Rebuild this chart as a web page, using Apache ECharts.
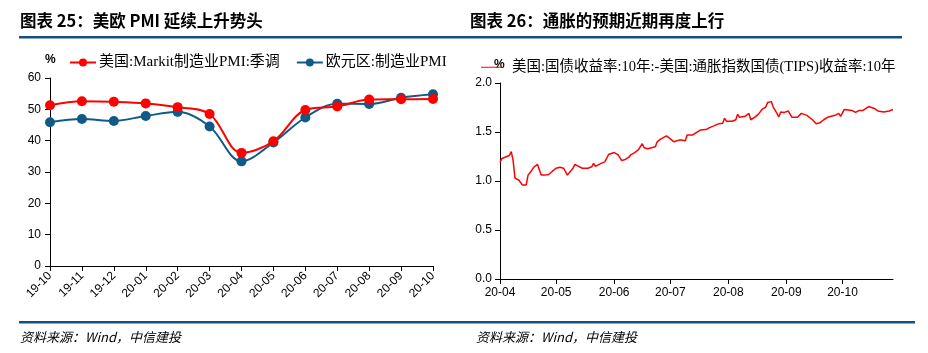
<!DOCTYPE html>
<html>
<head>
<meta charset="utf-8">
<script src="https://cdn.jsdelivr.net/npm/echarts@6/dist/echarts.min.js"></script>
<style>
  html, body { margin: 0; padding: 0; background: #fff; }
  #chart { width: 928px; height: 353px; }
</style>
</head>
<body>
<div id="chart"></div>
<script>
// 左图：美欧制造业PMI（月度）
const pmiMonths = ['19-10', '19-11', '19-12', '20-01', '20-02', '20-03', '20-04',
    '20-05', '20-06', '20-07', '20-08', '20-09', '20-10'];
const usPmi = [51.3, 52.6, 52.4, 51.9, 50.7, 48.5, 36.1, 39.8, 49.8, 50.9, 53.1, 53.2, 53.3];
const euPmi = [45.9, 46.9, 46.3, 47.9, 49.2, 44.5, 33.4, 39.4, 47.4, 51.8, 51.7, 53.7, 54.8];
const pmiTicks = [0, 10, 20, 30, 40, 50, 60];

// 右图：10年期盈亏平衡通胀率（日度）
const beDates = [
    '2020-04-01', '2020-04-02', '2020-04-03', '2020-04-06', '2020-04-07', '2020-04-08',
    '2020-04-09', '2020-04-11', '2020-04-13', '2020-04-14', '2020-04-15', '2020-04-16',
    '2020-04-17', '2020-04-18', '2020-04-19', '2020-04-21', '2020-04-22', '2020-04-23',
    '2020-04-25', '2020-04-27', '2020-04-29', '2020-04-30',
    '2020-05-01', '2020-05-03', '2020-05-05', '2020-05-07', '2020-05-10', '2020-05-11',
    '2020-05-13', '2020-05-15', '2020-05-18', '2020-05-20', '2020-05-21', '2020-05-22',
    '2020-05-25', '2020-05-27', '2020-05-28', '2020-05-29',
    '2020-06-01', '2020-06-03', '2020-06-04', '2020-06-05', '2020-06-07', '2020-06-09',
    '2020-06-10', '2020-06-12', '2020-06-14', '2020-06-15', '2020-06-16', '2020-06-17',
    '2020-06-19', '2020-06-23', '2020-06-24', '2020-06-26', '2020-06-29', '2020-06-30',
    '2020-07-03', '2020-07-04', '2020-07-06', '2020-07-09', '2020-07-10', '2020-07-13',
    '2020-07-14', '2020-07-17', '2020-07-20', '2020-07-21', '2020-07-22', '2020-07-24',
    '2020-07-27', '2020-07-29', '2020-07-30', '2020-07-31',
    '2020-08-03', '2020-08-05', '2020-08-06', '2020-08-07', '2020-08-10', '2020-08-12',
    '2020-08-13', '2020-08-15', '2020-08-17', '2020-08-19', '2020-08-21', '2020-08-22',
    '2020-08-24', '2020-08-25', '2020-08-27', '2020-08-28', '2020-08-29', '2020-08-31',
    '2020-09-01', '2020-09-02', '2020-09-03', '2020-09-04', '2020-09-07', '2020-09-09',
    '2020-09-10', '2020-09-12', '2020-09-15', '2020-09-17', '2020-09-19', '2020-09-21',
    '2020-09-23', '2020-09-24', '2020-09-27', '2020-09-29', '2020-09-30',
    '2020-10-02', '2020-10-03', '2020-10-06', '2020-10-08', '2020-10-10', '2020-10-12',
    '2020-10-15', '2020-10-18', '2020-10-20', '2020-10-23', '2020-10-26', '2020-10-28'
];
const beValues = [
    1.19, 1.23, 1.245, 1.26, 1.30, 1.21,
    1.03, 1.01, 0.96, 0.94, 0.96, 1.06,
    1.05, 1.11, 1.14, 1.17, 1.15, 1.06,
    1.06, 1.066, 1.10, 1.08,
    1.13, 1.14, 1.13, 1.06, 1.13, 1.17,
    1.15, 1.13, 1.13, 1.145, 1.18, 1.15,
    1.18, 1.195, 1.23, 1.27,
    1.29, 1.27, 1.28, 1.21, 1.22, 1.245,
    1.27, 1.29, 1.32, 1.35, 1.38, 1.34,
    1.33, 1.35, 1.40, 1.43, 1.46, 1.44,
    1.40, 1.415, 1.42, 1.41, 1.47, 1.47,
    1.49, 1.52, 1.525, 1.51, 1.545, 1.56,
    1.585, 1.59, 1.64, 1.61,
    1.61, 1.625, 1.68, 1.65, 1.66, 1.69,
    1.625, 1.65, 1.68, 1.73, 1.755, 1.80,
    1.81, 1.755, 1.69, 1.655, 1.705, 1.70,
    1.69, 1.715, 1.695, 1.65, 1.65, 1.69,
    1.67, 1.67, 1.625, 1.585, 1.595, 1.625,
    1.65, 1.635, 1.67, 1.69, 1.66,
    1.73, 1.74, 1.72, 1.70, 1.72, 1.72,
    1.76, 1.74, 1.715, 1.705, 1.715, 1.73
];
const beMonthTicks = ['2020-04-01', '2020-05-01', '2020-06-01', '2020-07-01',
    '2020-08-01', '2020-09-01', '2020-10-01'];
const beTicks = [0, 0.5, 1.0, 1.5, 2.0];

const RED = '#FF0000';
const BLUE = '#0F5A87';
const NAVY = '#14507C';
const LATIN = "'Liberation Sans', Arial, sans-serif";
const SERIF = "'Liberation Serif', 'Noto Sans CJK SC', serif";

// 日期转时间戳（UTC，避免时区偏移）
const ts = d => Date.UTC(+d.slice(0, 4), +d.slice(5, 7) - 1, +d.slice(8, 10));
const tickTs = beMonthTicks.map(ts);
const fmtMonth = v => {
    const dt = new Date(v);
    return String(dt.getUTCFullYear()).slice(2) + '-' + String(dt.getUTCMonth() + 1).padStart(2, '0');
};

const chart = echarts.init(document.getElementById('chart'));

const axisLineStyle = { show: true, lineStyle: { color: '#000', width: 1 } };

const option = {
    animation: false,
    backgroundColor: '#fff',
    textStyle: { fontFamily: LATIN },
    graphic: [
        // 标题
        { type: 'text', left: 20, top: 12, style: { text: '图表 25：美欧 PMI 延续上升势头', font: "bold 16.5px 'Noto Sans CJK SC', sans-serif", fill: '#000' } },
        { type: 'text', left: 470, top: 12, style: { text: '图表 26：通胀的预期近期再度上行', font: "bold 16.5px 'Noto Sans CJK SC', sans-serif", fill: '#000' } },
        // 分隔线
        { type: 'rect', shape: { x: 19, y: 36, width: 883, height: 2.5 }, style: { fill: NAVY } },
        { type: 'rect', shape: { x: 19, y: 321, width: 896, height: 2.5 }, style: { fill: NAVY } },
        // 单位
        { type: 'text', left: 45, top: 54, style: { text: '%', font: "bold 12px 'Liberation Sans', sans-serif", fill: '#000' } },
        { type: 'text', left: 494, top: 59, style: { text: '%', font: "bold 12px 'Liberation Sans', sans-serif", fill: '#000' } }
    ].concat([20, 476].map(x => ({
        // 资料来源
        type: 'text', left: x, top: 331,
        style: { text: '资料来源：Wind，中信建投', font: "italic 13px 'Noto Sans CJK SC', sans-serif", fill: '#000' }
    }))),
    legend: [
        {
            left: 64, top: 50,
            itemWidth: 26, itemHeight: 10, itemGap: 16,
            textStyle: { fontSize: 15, fontFamily: SERIF, color: '#000', padding: [0, 0, 0, -2] },
            data: ['美国:Markit制造业PMI:季调', '欧元区:制造业PMI']
        },
        {
            left: 476, top: 55,
            itemWidth: 20, itemHeight: 10,
            icon: 'path://M0,4.5L20,4.5L20,5.5L0,5.5Z',
            textStyle: { fontSize: 14.5, fontFamily: SERIF, color: '#000', padding: [0, 0, 0, 6] },
            data: ['美国:国债收益率:10年:-美国:通胀指数国债(TIPS)收益率:10年']
        }
    ],
    grid: [
        { left: 50, right: 495, top: 78, height: 188 },
        { left: 500, right: 35, top: 83, height: 196 }
    ],
    xAxis: [
        {
            gridIndex: 0, type: 'category', data: pmiMonths, boundaryGap: false,
            axisLine: axisLineStyle,
            axisTick: { show: true, length: 5, alignWithLabel: true, lineStyle: { color: '#000' } },
            axisLabel: { rotate: 45, fontSize: 12, color: '#000', margin: 8, interval: 0 }
        },
        {
            gridIndex: 1, type: 'value',
            min: ts('2020-04-01'),
            max: ts('2020-10-28'),
            axisLine: axisLineStyle,
            axisTick: { show: true, length: 5, customValues: tickTs, lineStyle: { color: '#000' } },
            axisLabel: {
                customValues: tickTs, fontSize: 12, color: '#000', margin: 8,
                formatter: fmtMonth
            },
            splitLine: { show: false }
        }
    ],
    yAxis: [
        {
            gridIndex: 0, type: 'value', min: pmiTicks[0], max: pmiTicks[pmiTicks.length - 1], interval: 10,
            axisLine: axisLineStyle,
            axisTick: { show: true, length: 5, lineStyle: { color: '#000' } },
            axisLabel: { fontSize: 12, color: '#000', margin: 9 },
            splitLine: { show: false }
        },
        {
            gridIndex: 1, type: 'value', min: beTicks[0], max: beTicks[beTicks.length - 1], interval: 0.5,
            axisLine: axisLineStyle,
            axisTick: { show: true, length: 5, lineStyle: { color: '#000' } },
            axisLabel: { fontSize: 12, color: '#000', margin: 8, formatter: v => v.toFixed(1) },
            splitLine: { show: false }
        }
    ],
    series: [
        {
            name: '美国:Markit制造业PMI:季调', type: 'line', xAxisIndex: 0, yAxisIndex: 0,
            data: usPmi, smooth: 0.35, symbol: 'circle', symbolSize: 10,
            lineStyle: { color: RED, width: 2 }, itemStyle: { color: RED }, z: 3
        },
        {
            name: '欧元区:制造业PMI', type: 'line', xAxisIndex: 0, yAxisIndex: 0,
            data: euPmi, smooth: 0.35, symbol: 'circle', symbolSize: 10,
            lineStyle: { color: BLUE, width: 2 }, itemStyle: { color: BLUE }, z: 2
        },
        {
            name: '美国:国债收益率:10年:-美国:通胀指数国债(TIPS)收益率:10年', type: 'line',
            xAxisIndex: 1, yAxisIndex: 1,
            data: beDates.map((d, i) => [ts(d), beValues[i]]),
            showSymbol: false, symbol: 'none',
            lineStyle: { color: RED, width: 1.5 }, itemStyle: { color: RED }
        }
    ]
};

chart.setOption(option);
</script>
</body>
</html>
